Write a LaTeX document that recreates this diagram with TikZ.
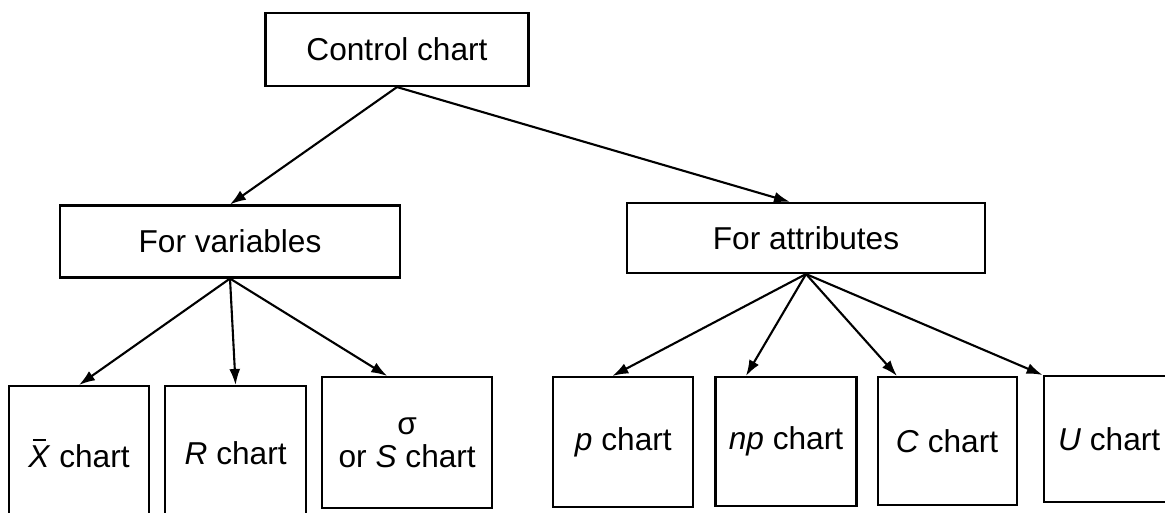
\documentclass[tikz,border=0pt]{standalone}
\usepackage{fontspec}
\setmainfont{Liberation Sans}
\usepackage{tikz}
\usetikzlibrary{arrows.meta,positioning}
\newcommand{\chartfont}{\fontsize{18}{19}\selectfont}
\newcommand{\barX}{\makebox[0pt][l]{\hspace{0.14em}\raisebox{0.86em}{\rule{0.42em}{1.1pt}}}\textit{X}}
\tikzset{
  cbox/.style    ={draw, line width=1.2pt, align=center,
                   font=\chartfont, inner sep=2pt},
  headbox/.style ={cbox, minimum width=5.26cm, minimum height=1.46cm},
  groupbox/.style={cbox, minimum width=#1, minimum height=1.44cm},
  groupbox/.default=6.8cm,
  chartbox/.style={cbox, minimum width=#1, minimum height=2.6cm},
  chartbox/.default=2.8cm,
  arr/.style     ={-{Latex[length=0.32cm,width=0.22cm]}, line width=1.2pt},
}

\begin{document}
\begin{tikzpicture}
  \useasboundingbox (0,0) rectangle (23.3,-10.24);
  \node[headbox] (ctrl) at (7.94,-0.99) {Control chart};
  \node[groupbox] (vars) at (4.6,-4.83) {For variables};
  \node[groupbox=7.16cm, minimum height=1.4cm] (attrs) at (16.12,-4.76) {For attributes};
  % charts for variables
  \node[chartbox, minimum height=2.7cm, anchor=north] (xbar) at (1.58,-7.7) {\barX{} chart};
  \node[chartbox=2.82cm, minimum height=2.7cm, right=0.28cm of xbar.north east, anchor=north west] (rch) {\textit{R} chart};
  \node[chartbox=3.4cm, minimum height=2.62cm, right=0.28cm of rch.north east, anchor=north west, yshift=0.18cm] (sch) {σ\\or \textit{S} chart};
  % charts for attributes
  \node[chartbox, right=1.18cm of sch.north east, anchor=north west] (pch) {\textit{p} chart};
  \node[chartbox=2.82cm, minimum height=2.58cm, right=0.4cm of pch.north east, anchor=north west] (npch) {\textit{np} chart};
  \node[chartbox=2.78cm, minimum height=2.56cm, right=0.38cm of npch.north east, anchor=north west] (cch) {\textit{C} chart};
  \node[chartbox=2.62cm, minimum height=2.52cm, right=0.5cm of cch.north east, anchor=north west, yshift=0.02cm] (uch) {\textit{U} chart};
  \draw[arr] (ctrl.south) -- (vars.north);
  \draw[arr] (ctrl.south) -- ([xshift=-0.32cm]attrs.north);
  \draw[arr] (vars.south) -- (xbar.north);
  \draw[arr] (vars.south) -- (rch.north);
  \draw[arr] (vars.south) -- ([xshift=-0.4cm]sch.north);
  \draw[arr] (attrs.south) -- ([xshift=-0.22cm]pch.north);
  \draw[arr] (attrs.south) -- ([xshift=-0.8cm]npch.north);
  \draw[arr] (attrs.south) -- ([xshift=-1cm]cch.north);
  \draw[arr] (attrs.south) -- (uch.north west);
\end{tikzpicture}
\end{document}
